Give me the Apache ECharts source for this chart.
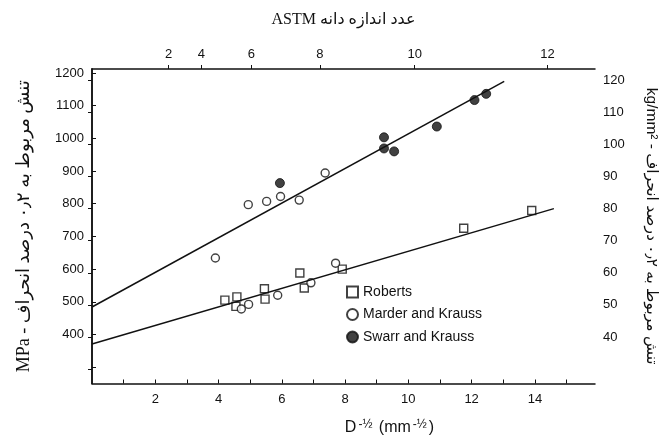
<!DOCTYPE html>
<html>
<head>
<meta charset="UTF-8">
<title></title>
<style>html,body{margin:0;padding:0;background:#fff;}#chart{width:668px;height:441px;}</style>
</head>
<body>
<div id="chart"></div>
<script src="https://cdn.jsdelivr.net/npm/echarts@6/dist/echarts.min.js"></script>
<script>
// D^-1/2 ticks (bottom) and labels
var bottomTicks = [1, 2, 3, 4, 5, 6, 7, 8, 9, 10, 11, 12, 13, 14, 15];
var bottomLabels = [2, 4, 6, 8, 10, 12, 14];
// ASTM grain size number (top), placed on the D^-1/2 scale
var astmLabels = [2, 4, 6, 8, 10, 12];
var astmPos = [2.42, 3.46, 5.04, 7.2, 10.2, 14.4];
// stress ticks
var mpaTicks = [300, 400, 500, 600, 700, 800, 900, 1000, 1100, 1200];
var mpaLabels = [400, 500, 600, 700, 800, 900, 1000, 1100, 1200];
var kgTicks = [30, 40, 50, 60, 70, 80, 90, 100, 110, 120];
var kgLabels = [40, 50, 60, 70, 80, 90, 100, 110, 120];

// data points [D^-1/2, MPa]
var roberts = [[4.2, 505], [4.58, 515], [4.55, 486], [5.45, 540], [5.47, 508], [6.57, 588],
               [6.71, 542], [7.91, 600], [11.75, 725], [13.9, 779]];
var marder = [[3.9, 634], [4.94, 797], [5.52, 807], [5.96, 822], [6.55, 811], [7.37, 894],
              [4.72, 478], [4.95, 492], [5.87, 520], [6.92, 558], [7.7, 618]];
var swarr = [[5.94, 863], [9.23, 1003], [9.23, 969], [9.55, 960], [10.9, 1036], [12.09, 1117], [12.46, 1136]];
// fitted lines
var fitUpper = [[0, 484], [13.03, 1174]];
var fitLower = [[0, 371], [14.6, 785]];

var KG = 9.81;  // MPa per kg/mm2
var yMin = 250, yMax = 1212;
var txt = '#111';
var sansF = "'Liberation Sans', 'DejaVu Sans', sans-serif";
var serifF = "'Liberation Serif', 'DejaVu Sans', serif";

// plain numbers, no thousands separator
function plain(v) { return String(Math.round(v)); }

var chart = echarts.init(document.getElementById('chart'));

var option = {
    backgroundColor: '#fff',
    animation: false,
    grid: {left: 92, right: 73, top: 69, bottom: 56, containLabel: false},
    legend: {
        orient: 'vertical',
        left: 341,
        top: 280,
        itemWidth: 11,
        itemHeight: 11,
        itemGap: 8.5,
        data: ['Roberts', 'Marder and Krauss', 'Swarr and Krauss'],
        textStyle: {color: txt, fontSize: 14, fontFamily: sansF}
    },
    xAxis: [
        {
            type: 'value', position: 'bottom', min: 0, max: 15.9,
            splitLine: {show: false},
            axisLine: {lineStyle: {color: '#111', width: 1.5}},
            axisTick: {inside: true, length: 4, customValues: bottomTicks, lineStyle: {color: '#111'}},
            axisLabel: {customValues: bottomLabels, color: txt, fontSize: 13, fontFamily: sansF, margin: 9, formatter: plain},
            name: '{a|D}{b|-½}{a| (mm}{b|-½}{a|)}',
            nameLocation: 'middle',
            nameGap: 35,
            nameTextStyle: {
                padding: [0, 0, 0, 92],
                rich: {
                    a: {fontSize: 16, color: txt, fontFamily: sansF},
                    b: {fontSize: 12, color: txt, fontFamily: sansF, padding: [0, 2, 7, 2]}
                }
            }
        },
        {
            type: 'value', position: 'top', min: 0, max: 15.9,
            splitLine: {show: false},
            axisLine: {lineStyle: {color: '#111', width: 1.5}},
            axisTick: {inside: false, length: 4, customValues: astmPos, lineStyle: {color: '#111'}},
            axisLabel: {
                customValues: astmPos, color: txt, fontSize: 13, fontFamily: sansF, margin: 8,
                formatter: function (v) {
                    var best = 0;
                    for (var i = 0; i < astmPos.length; i++) {
                        if (Math.abs(astmPos[i] - v) < Math.abs(astmPos[best] - v)) best = i;
                    }
                    return astmLabels[best];
                }
            },
            name: 'ASTM عدد اندازه دانه',
            nameLocation: 'middle',
            nameGap: 41,
            nameTextStyle: {color: txt, fontSize: 16, fontFamily: serifF}
        }
    ],
    yAxis: [
        {
            type: 'value', position: 'left', min: yMin, max: yMax,
            splitLine: {show: false},
            axisLine: {lineStyle: {color: '#111', width: 1.5}},
            axisTick: {inside: true, length: 4, customValues: mpaTicks, lineStyle: {color: '#111'}},
            axisLabel: {customValues: mpaLabels, color: txt, fontSize: 13, fontFamily: sansF, margin: 8, formatter: plain},
            name: 'MPa - تنش مربوط به ۰٫۲ درصد انحراف',
            nameLocation: 'middle',
            nameRotate: 90,
            nameGap: 59,
            nameTextStyle: {color: txt, fontSize: 18, fontFamily: serifF}
        },
        {
            type: 'value', position: 'right', min: yMin / KG, max: yMax / KG,
            splitLine: {show: false},
            axisLine: {lineStyle: {color: '#111', width: 1.5}},
            axisTick: {inside: true, length: 4, customValues: kgTicks, lineStyle: {color: '#111'}},
            axisLabel: {customValues: kgLabels, color: txt, fontSize: 13, fontFamily: sansF, margin: 8, formatter: plain},
            name: 'kg/mm² - تنش مربوط به ۰٫۲ درصد انحراف',
            nameLocation: 'middle',
            nameRotate: -90,
            nameGap: 48,
            nameTextStyle: {color: txt, fontSize: 15.5, fontFamily: sansF}
        }
    ],
    series: [
        {
            type: 'line', data: fitUpper, xAxisIndex: 0, yAxisIndex: 0,
            showSymbol: false, silent: true,
            lineStyle: {color: '#111', width: 1.5}
        },
        {
            type: 'line', data: fitLower, xAxisIndex: 0, yAxisIndex: 0,
            showSymbol: false, silent: true,
            lineStyle: {color: '#111', width: 1.5}
        },
        {
            name: 'Roberts', type: 'scatter', data: roberts,
            symbol: 'rect', symbolSize: 8,
            itemStyle: {color: '#fff', borderColor: '#111', borderWidth: 1.4}
        },
        {
            name: 'Marder and Krauss', type: 'scatter', data: marder,
            symbol: 'circle', symbolSize: 8,
            itemStyle: {color: '#fff', borderColor: '#111', borderWidth: 1.4}
        },
        {
            name: 'Swarr and Krauss', type: 'scatter', data: swarr,
            symbol: 'circle', symbolSize: 9,
            itemStyle: {color: '#111', borderColor: '#111', borderWidth: 1}
        }
    ]
};
chart.setOption(option);
</script>
</body>
</html>
